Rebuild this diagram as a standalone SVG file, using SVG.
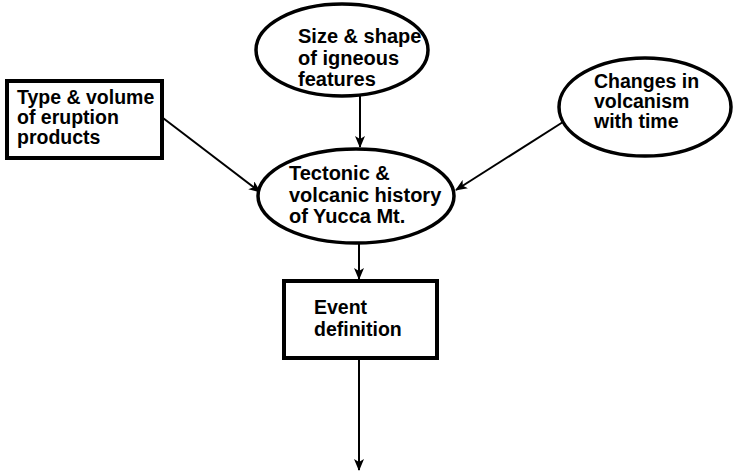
<svg xmlns="http://www.w3.org/2000/svg" width="735" height="476" viewBox="0 0 735 476">
<defs>
<style>
.n{fill:#fff;stroke:#000;stroke-width:3.5}
.b{fill:#fff;stroke:#000;stroke-width:4}
.t{font-family:"Liberation Sans",Arial,sans-serif;font-weight:bold;font-size:19.5px;fill:#000}
.l{font-size:20px}
.c{stroke:#000;stroke-width:2;fill:none}
</style>
<marker id="ah" viewBox="0 0 12 10" refX="11" refY="5" markerWidth="12" markerHeight="10" markerUnits="userSpaceOnUse" orient="auto">
<path d="M0,0 L12,5 L0,10 L3,5 Z" fill="#000"/>
</marker>
</defs>
<rect width="735" height="476" fill="#fff"/>
<g id="connectors">
<line class="c" x1="360" y1="96" x2="360" y2="147" marker-end="url(#ah)"/>
<line class="c" x1="163" y1="118" x2="260" y2="192" marker-end="url(#ah)"/>
<line class="c" x1="563" y1="122" x2="456" y2="190" marker-end="url(#ah)"/>
<line class="c" x1="359" y1="244" x2="359" y2="279" marker-end="url(#ah)"/>
<line class="c" x1="359" y1="360" x2="359" y2="470" marker-end="url(#ah)"/>
</g>
<g id="size-shape">
<ellipse class="n" cx="342" cy="50" rx="86" ry="46"/>
<text class="t l"><tspan x="298" y="43">Size &amp; shape</tspan><tspan x="298" y="65">of igneous</tspan><tspan x="298" y="86">features</tspan></text>
</g>
<g id="type-volume">
<rect class="b" x="7" y="81" width="155" height="77"/>
<text class="t"><tspan x="17" y="104">Type &amp; volume</tspan><tspan x="17" y="124">of eruption</tspan><tspan x="17" y="144">products</tspan></text>
</g>
<g id="changes">
<ellipse class="n" cx="645" cy="107" rx="86" ry="49"/>
<text class="t"><tspan x="594" y="88">Changes in</tspan><tspan x="594" y="108">volcanism</tspan><tspan x="594" y="128">with time</tspan></text>
</g>
<g id="tectonic">
<ellipse class="n" cx="356" cy="196" rx="98" ry="47"/>
<text class="t l"><tspan x="289" y="180">Tectonic &amp;</tspan><tspan x="289" y="202">volcanic history</tspan><tspan x="289" y="223">of Yucca Mt.</tspan></text>
</g>
<g id="event">
<rect class="b" x="284" y="281" width="153" height="77"/>
<text class="t"><tspan x="314" y="314">Event</tspan><tspan x="314" y="336">definition</tspan></text>
</g>
</svg>
